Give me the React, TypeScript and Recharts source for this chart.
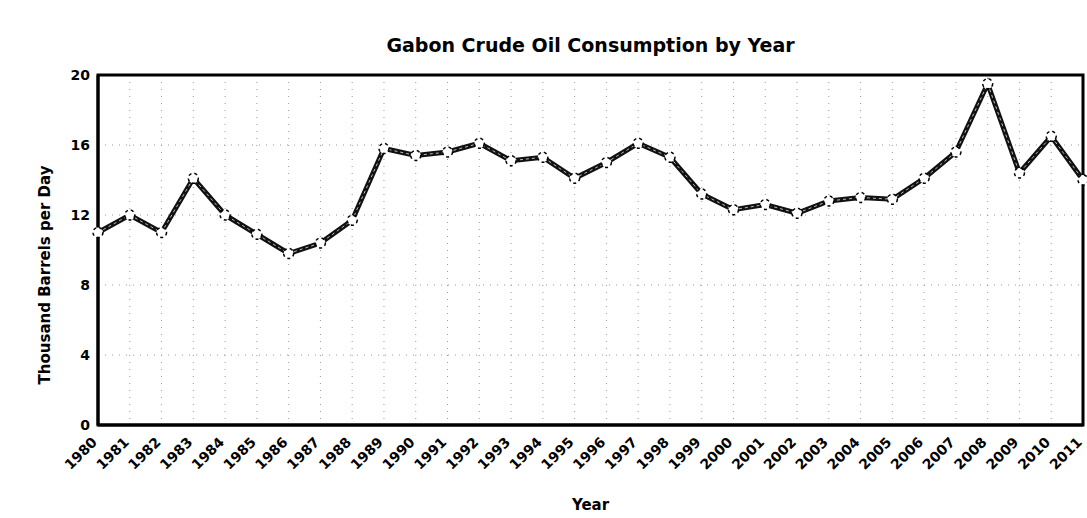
import React from 'react';
import { LineChart, Line, XAxis, YAxis, CartesianGrid, ReferenceArea } from 'recharts';

const years: string[] = ['1980','1981','1982','1983','1984','1985','1986','1987','1988','1989','1990','1991','1992','1993','1994','1995','1996','1997','1998','1999','2000','2001','2002','2003','2004','2005','2006','2007','2008','2009','2010','2011'];
const consumption: number[] = [11.0,12.0,11.0,14.1,12.0,10.9,9.8,10.4,11.7,15.8,15.4,15.6,16.1,15.1,15.3,14.1,15.0,16.1,15.3,13.2,12.3,12.6,12.1,12.8,13.0,12.9,14.1,15.6,19.5,14.4,16.5,14.0];
const yTicks: number[] = [0, 4, 8, 12, 16, 20];
const title = 'Gabon Crude Oil Consumption by Year';
const yLabel = 'Thousand Barrels per Day';
const xLabel = 'Year';

const data = years.map((y, i) => ({ year: y, value: consumption[i] }));

const FONT = '"DejaVu Sans", Verdana, sans-serif';

const XTick = (props: any) => {
  const { x, y, payload } = props;
  const ax = x;
  const ay = y + 10;
  return (
    <text
      x={ax}
      y={ay}
      textAnchor="end"
      fontFamily={FONT}
      fontWeight="bold"
      fontSize={14}
      fill="#000"
      transform={`rotate(-45, ${ax}, ${ay})`}
    >
      {payload.value}
    </text>
  );
};

const YLabel = () => (
  <text
    x={45}
    y={275}
    textAnchor="middle"
    dominantBaseline="central"
    fontFamily={FONT}
    fontWeight="bold"
    fontSize={15}
    fill="#000"
    transform="rotate(-90, 45, 275)"
  >
    {yLabel}
  </text>
);

export default function App() {
  return (
    <div style={{ position: 'fixed', left: 0, top: 0, width: 1087, height: 518, background: '#fff', overflow: 'hidden' }}>
      <div
        style={{
          position: 'absolute',
          left: 98,
          width: 985,
          top: 34,
          textAlign: 'center',
          fontFamily: FONT,
          fontWeight: 'bold',
          fontSize: 19,
          color: '#000',
        }}
      >
        {title}
      </div>
      <LineChart
        width={1087}
        height={518}
        data={data}
        margin={{ top: 75, right: 4, bottom: 0, left: 58 }}
      >
        <CartesianGrid stroke="#999" strokeDasharray="1 6" />
        <XAxis
          dataKey="year"
          interval={0}
          tick={<XTick />}
          tickLine={false}
          axisLine={{ stroke: '#000', strokeWidth: 3 }}
          height={93}
          label={{ value: xLabel, position: 'insideBottom', offset: 8, style: { fontFamily: FONT, fontWeight: 'bold', fontSize: 15, fill: '#000' } }}
        />
        <YAxis
          domain={[0, 20]}
          ticks={yTicks}
          width={40}
          tickLine={false}
          axisLine={{ stroke: '#000', strokeWidth: 3 }}
          tick={{ fontFamily: FONT, fontWeight: 'bold', fontSize: 14, fill: '#000' }}
          label={{ content: <YLabel /> }}
        />
        <ReferenceArea x1={years[0]} x2={years[years.length - 1]} y1={0} y2={20} fill="none" stroke="#000" strokeWidth={3} fillOpacity={0} ifOverflow="visible" />
        <Line dataKey="value" stroke="#111" strokeWidth={5} dot={false} isAnimationActive={false} />
        <Line
          dataKey="value"
          stroke="#bbb"
          strokeWidth={1}
          strokeDasharray="3 3"
          dot={{ r: 5, fill: '#fff', stroke: '#000', strokeWidth: 1.5 }}
          isAnimationActive={false}
        />
      </LineChart>
    </div>
  );
}
